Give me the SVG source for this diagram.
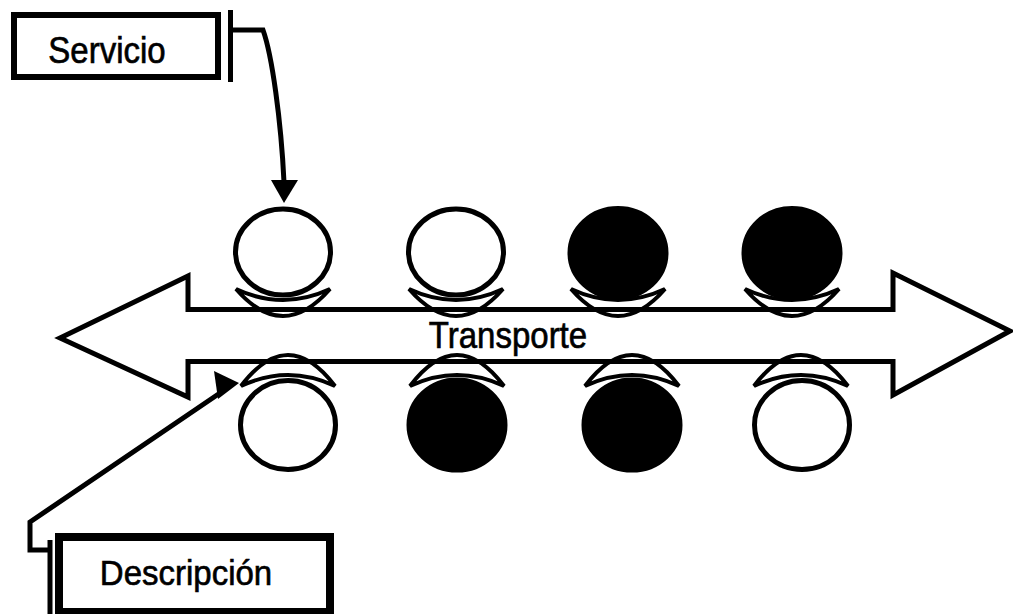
<svg xmlns="http://www.w3.org/2000/svg" width="1013" height="614" viewBox="0 0 1013 614">
<style>
.ln{fill:none;stroke:#000;stroke-width:5}
.box{fill:#fff;stroke:#000}
.lbl{font-family:"Liberation Sans",Arial,sans-serif;font-size:33px;fill:#000;stroke:#000;stroke-width:0.6}
.sau{fill:#fff;stroke:#000;stroke-width:4;stroke-linejoin:miter}
.cw{fill:#fff;stroke:#000;stroke-width:5}
.cb{fill:#000;stroke:#000;stroke-width:5}
.ah{fill:#000}
</style>
<defs>
<path id="sauTop" d="M-47,289 Q0,311 47,289 Q0,343 -47,289 Z"/>
<path id="sauBot" d="M-47,386 Q0,364 47,386 Q0,324 -47,386 Z"/>
</defs>
<rect width="1013" height="614" fill="#fff"/>
<g id="transporte">
<polygon class="ln" style="fill:#fff" points="60,338 188,276 188,309.5 893,309.5 893,273 1010,331 893,395 893,361.5 188,361.5 188,397"/>
</g>
<g id="saucers">
<use href="#sauTop" class="sau" x="283"/>
<use href="#sauTop" class="sau" x="456"/>
<use href="#sauTop" class="sau" x="618"/>
<use href="#sauTop" class="sau" x="792"/>
<use href="#sauBot" class="sau" x="288"/>
<use href="#sauBot" class="sau" x="457"/>
<use href="#sauBot" class="sau" x="632"/>
<use href="#sauBot" class="sau" x="801"/>
</g>
<g id="shaft-lines">
<line class="ln" x1="186" y1="309.5" x2="895" y2="309.5"/>
<line class="ln" x1="186" y1="361.5" x2="895" y2="361.5"/>
</g>
<text class="lbl" transform="translate(508,348) scale(1,1.1)" text-anchor="middle">Transporte</text>
<g id="top-1"><ellipse class="cw" cx="283" cy="252" rx="47.5" ry="43"/></g>
<g id="top-2"><ellipse class="cw" cx="456" cy="252" rx="47.5" ry="43"/></g>
<g id="top-3"><ellipse class="cb" cx="618" cy="253" rx="48" ry="44.5"/></g>
<g id="top-4"><ellipse class="cb" cx="792" cy="253" rx="48" ry="44.5"/></g>
<g id="bottom-1"><ellipse class="cw" cx="288" cy="425" rx="47.5" ry="44.5"/></g>
<g id="bottom-2"><ellipse class="cb" cx="457" cy="425" rx="48" ry="45"/></g>
<g id="bottom-3"><ellipse class="cb" cx="632" cy="425" rx="48" ry="45"/></g>
<g id="bottom-4"><ellipse class="cw" cx="802" cy="425" rx="47.5" ry="44.5"/></g>
<g id="servicio">
<rect class="box" x="14" y="15" width="204" height="62" stroke-width="6"/>
<text class="lbl" transform="translate(107,63) scale(1,1.12)" text-anchor="middle">Servicio</text>
</g>
<g id="descripcion">
<rect class="box" x="59" y="537" width="271" height="75" stroke-width="8"/>
<text class="lbl" transform="translate(186,585) scale(1,1.05)" text-anchor="middle">Descripción</text>
</g>
<g id="connectors">
<line class="ln" x1="230.5" y1="10" x2="230.5" y2="82"/>
<path class="ln" d="M230,30 H263 C272,55 281,120 284,182"/>
<polygon class="ah" points="271,180 298,180 284,203"/>
<line class="ln" x1="50" y1="540" x2="50" y2="614"/>
<polyline class="ln" points="48,550 30,550 30,522 220,393"/>
<polygon class="ah" points="214,371 218,399 239,383"/>
</g>
</svg>
